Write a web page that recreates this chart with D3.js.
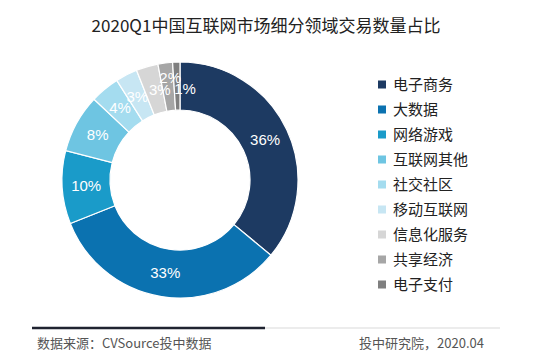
<!DOCTYPE html>
<html><head><meta charset="utf-8">
<script src="https://cdn.jsdelivr.net/npm/d3@7"></script>
<style>body{margin:0;background:#fff}svg{display:block}</style>
</head><body>
<svg id="c" width="550" height="361"></svg>
<script>
const categories = ["电子商务","大数据","网络游戏","互联网其他","社交社区","移动互联网","信息化服务","共享经济","电子支付"];
const values = [36,33,10,8,4,3,3,2,1];
const colors = ["#1d3a62","#0b72b0","#1a9bc9","#6ec5e2","#a4dcef","#c7e6f3","#d6d6d6","#a6a6a6","#7f7f7f"];
const title = "2020Q1中国互联网市场细分领域交易数量占比";
const sourceText = "数据来源：CVSource投中数据";
const creditText = "投中研究院，2020.04";

const svg = d3.select("#c");
const font = "'Noto Sans CJK SC','Noto Sans',sans-serif";
svg.append("rect").attr("width",550).attr("height",361).attr("fill","#fff");

svg.append("text").attr("x",266).attr("y",32).attr("text-anchor","middle")
  .attr("font-family",font).attr("font-size",17).attr("fill","#222").text(title);

const cx=180, cy=180, rO=118, rI=70;
const data = categories.map((c,i)=>({c, v:values[i], col:colors[i]}));
const pie = d3.pie().value(d=>d.v).sort(null);
const arc = d3.arc().innerRadius(rI).outerRadius(rO);
const g = svg.append("g").attr("transform",`translate(${cx},${cy})`);
const arcs = pie(data);
g.selectAll("path").data(arcs).enter().append("path")
  .attr("d",arc).attr("fill",d=>d.data.col).attr("stroke","#fff").attr("stroke-width",1.2);
// small nudges for the crowded tiny-slice labels (as in the reference)
const nudge = i => i===8 ? [8,3] : i===7 ? [2,-9] : i===6 ? [6,0] : [0,0];
g.selectAll("text").data(arcs).enter().append("text")
  .attr("transform",(d,i)=>{const c=arc.centroid(d), n=nudge(i); return `translate(${c[0]+n[0]},${c[1]+n[1]})`;})
  .attr("text-anchor","middle").attr("dy","0.36em")
  .attr("font-family","'Liberation Sans',Arial,sans-serif").attr("font-size",15)
  .attr("fill","#fff").text(d=>d.data.v+"%");

const y = d3.scaleBand().domain(categories).range([72,297]);
const lg = svg.append("g");
const items = lg.selectAll("g").data(data).enter().append("g")
  .attr("transform",d=>`translate(378,${y(d.c)+y.bandwidth()/2})`);
items.append("rect").attr("x",0).attr("y",-4).attr("width",8).attr("height",8).attr("fill",d=>d.col);
items.append("text").attr("x",15).attr("dy","0.35em").attr("font-family",font)
  .attr("font-size",15).attr("fill","#222").text(d=>d.c);

svg.append("line").attr("x1",32).attr("x2",500).attr("y1",328).attr("y2",328).attr("stroke","#e6e6e6").attr("stroke-width",1.5);
svg.append("line").attr("x1",32).attr("x2",265).attr("y1",328).attr("y2",328).attr("stroke","#1f2330").attr("stroke-width",2.5);
svg.append("text").attr("x",37).attr("y",348).attr("font-family",font).attr("font-size",13).attr("fill","#555").text(sourceText);
svg.append("text").attr("x",484).attr("y",348).attr("text-anchor","end").attr("font-family",font).attr("font-size",13).attr("fill","#555").text(creditText);
</script>
</body></html>
